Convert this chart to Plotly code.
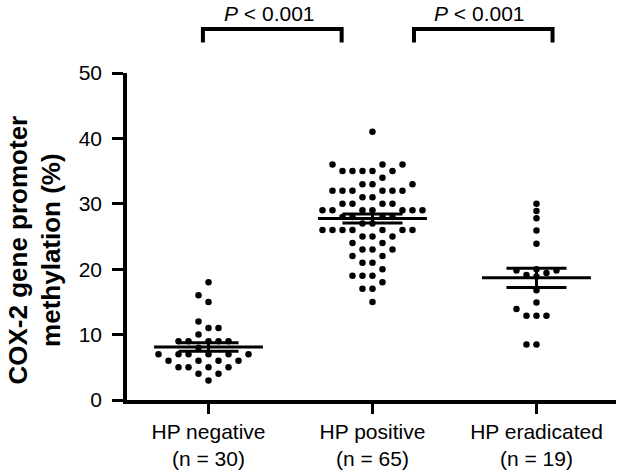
import numpy as np
import plotly.graph_objects as go

# ---------------- data ----------------
categories = ["HP negative", "HP positive", "HP eradicated"]
group_sizes = ["(n = 30)", "(n = 65)", "(n = 19)"]

hp_negative = [3, 4, 4, 5, 5, 5, 5, 6, 6, 6, 6, 7, 7, 7, 7, 7, 7, 8,
               9, 9, 9, 9, 9, 10, 11, 11, 12, 15, 16, 18]
hp_positive = [15, 17, 17, 18, 19, 19, 19, 20, 21, 21, 22, 22, 23, 23, 23,
               24, 24, 25, 25, 25, 26, 26, 26, 26, 26, 26, 26, 27, 27,
               28, 28, 28, 28, 29, 29, 29, 29, 29, 29, 29, 30, 30, 30, 30,
               31, 31, 32, 32, 32, 32, 32, 32, 33, 33, 33, 34,
               35, 35, 35, 35, 35, 36, 36, 36, 41]
hp_eradicated = [8.5, 8.5, 12.9, 12.9, 12.9, 13.9, 14.9, 16.8, 18.9, 19.1,
                 19.4, 19.8, 19.8, 20.0, 23.9, 25.9, 27.8, 28.9, 30.0]

groups = [hp_negative, hp_positive, hp_eradicated]

comparisons = [(0, 1, "<i>P</i> &lt; 0.001"), (1, 2, "<i>P</i> &lt; 0.001")]

y_ticks = [0, 10, 20, 30, 40, 50]

# ---------------- style constants ----------------
FONT = "Arial, Liberation Sans, sans-serif"
X_RANGE = [-0.497, 2.485]
Y_RANGE = [0, 50]
PLOT_W = 489.0   # px
PLOT_H = 327.0   # px
PX_PER_X = PLOT_W / (X_RANGE[1] - X_RANGE[0])
PX_PER_Y = PLOT_H / (Y_RANGE[1] - Y_RANGE[0])
STEP_PX = 10.0       # horizontal spacing of swarm columns
MIN_DY_PX = 7.0      # vertical distance below which two dots in a column collide
MEAN_HALF = 0.332
SEM_HALF = 0.183


def swarm_offsets(values):
    """Simple column beeswarm: returns x offsets (axis units) for each value."""
    order = np.argsort(values, kind="stable")
    placed = []  # (column, value)
    offs = np.zeros(len(values))
    cand = [0]
    for k in range(1, 20):
        cand += [-k, k]
    for idx in order:
        v = values[idx]
        for c in cand:
            ok = True
            for (pc, pv) in placed:
                if pc == c and abs(pv - v) * PX_PER_Y < MIN_DY_PX:
                    ok = False
                    break
            if ok:
                placed.append((c, v))
                offs[idx] = c * STEP_PX / PX_PER_X
                break
    return offs


fig = go.Figure()

# dots
for i, vals in enumerate(groups):
    vals = np.asarray(vals, dtype=float)
    offs = swarm_offsets(vals)
    fig.add_trace(go.Scatter(
        x=i + offs, y=vals, mode="markers",
        marker=dict(color="black", size=6.5, line=dict(width=0)),
        hoverinfo="y", showlegend=False))

# mean +/- SEM
lx, ly = [], []
for i, vals in enumerate(groups):
    vals = np.asarray(vals, dtype=float)
    m = vals.mean()
    s = vals.std(ddof=1) / np.sqrt(len(vals))
    lx += [i - MEAN_HALF, i + MEAN_HALF, None,
           i - SEM_HALF, i + SEM_HALF, None,
           i - SEM_HALF, i + SEM_HALF, None,
           i, i, None]
    ly += [m, m, None, m + s, m + s, None, m - s, m - s, None,
           m - s, m + s, None]
fig.add_trace(go.Scatter(x=lx, y=ly, mode="lines",
                         line=dict(color="black", width=3),
                         hoverinfo="skip", showlegend=False))

# significance brackets
bracket_x = {(0, 1): (-0.034, 0.812), (1, 2): (1.253, 2.098)}
y_top = 1.1346
y_leg = 1.093
for a, b, label in comparisons:
    x0, x1 = bracket_x[(a, b)]
    fig.add_shape(type="path",
                  path=f"M {x0},{y_leg} L {x0},{y_top} L {x1},{y_top} L {x1},{y_leg}",
                  xref="x", yref="paper",
                  line=dict(color="black", width=4))
    fig.add_annotation(x=(x0 + x1) / 2 - 0.02, y=1.182, xref="x", yref="paper",
                       text=label, showarrow=False,
                       font=dict(family=FONT, size=21, color="black"),
                       xanchor="center", yanchor="middle")

# y-axis title
fig.add_annotation(x=-0.189, y=0.459, xref="paper", yref="paper",
                   text="<b>COX-2 gene promoter<br>methylation (%)</b>",
                   textangle=-90, showarrow=False,
                   font=dict(family=FONT, size=26, color="black"),
                   xanchor="center", yanchor="middle")

fig.update_layout(
    width=618, height=471,
    margin=dict(l=127, r=2, t=73, b=71, pad=0),
    paper_bgcolor="white", plot_bgcolor="white",
    font=dict(family=FONT, size=21, color="black"),
    xaxis=dict(range=X_RANGE, tickvals=[0, 1, 2],
               ticktext=[f"{c}<br>{n}" for c, n in zip(categories, group_sizes)],
               showline=True, linecolor="black", linewidth=3.5,
               ticks="outside", ticklen=10, tickwidth=3, tickcolor="black",
               showgrid=False, zeroline=False,
               tickfont=dict(family=FONT, size=21, color="black")),
    yaxis=dict(range=Y_RANGE, tickvals=y_ticks,
               showline=True, linecolor="black", linewidth=3.5,
               ticks="outside", ticklen=11, tickwidth=3, tickcolor="black",
               showgrid=False, zeroline=False, ticklabelstandoff=6,
               tickfont=dict(family=FONT, size=21, color="black")),
)

fig.write_html("out.html",
               config={"displayModeBar": False},
               post_script="document.body.style.margin='0';document.body.style.padding='0';document.body.style.overflow='hidden';")
